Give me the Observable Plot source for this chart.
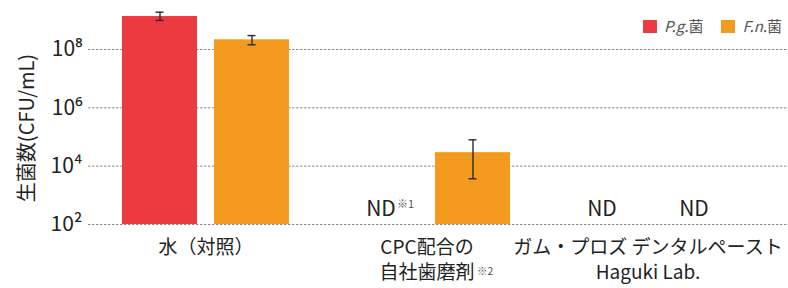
<!DOCTYPE html>
<html><head><meta charset="utf-8">
<script src="https://cdn.jsdelivr.net/npm/d3@7"></script>
<script src="https://cdn.jsdelivr.net/npm/@observablehq/plot@0.6"></script>
<style>
body{margin:0;background:#fff;}
#wrap{position:relative;width:788px;height:288px;overflow:hidden;font-family:"Noto Sans CJK JP","Noto Sans",sans-serif;}
#legend{position:absolute;top:18px;left:643px;display:flex;align-items:center;font-size:15px;color:#555;white-space:nowrap;line-height:16px;}
#legend .item{display:flex;align-items:center;margin-right:18px;}
#legend .sw{display:inline-block;width:14px;height:13px;margin-right:7px;}
</style></head><body><div id="wrap"><div id="legend"></div></div>
<script>
// ---- data ----
const groups = ["水（対照）", "CPC配合の\n自社歯磨剤", "ガム・プロズ デンタルペースト\nHaguki Lab."];
const groupNotes = [null, "※2", null];
const series = ["P.g.", "F.n."];
const seriesSuffix = "菌";
const seriesColors = ["#ec3a41", "#f39a1f"];
const pgValues = [1.35e9, null, null];
const pgLow = [9.9e8, null, null];
const pgHigh = [1.9e9, null, null];
const pgNotes = [null, "※1", null];
const fnValues = [2.15e8, 2.9e4, null];
const fnLow = [1.45e8, 3.7e3, null];
const fnHigh = [3.0e8, 8.0e4, null];
const fnNotes = [null, null, null];
const ndText = "ND";
const yBase = 1e2;
const yTicks = [1e2, 1e4, 1e6, 1e8];
const yTickLabels = ["10²", "10⁴", "10⁶", "10⁸"];
const yLabel = "生菌数(CFU/mL)";

// ---- layout ----
const W = 788, H = 288;
const barW = 75, barGap = 17;
const slot = barW + barGap;
const bandW = 2 * barW + barGap;
const capW = 8;

const rows = (vals, lows, highs, notes, s) => groups.map((g, i) => ({group: g, value: vals[i], low: lows[i], high: highs[i], note: notes[i], series: s}));
const pgRows = rows(pgValues, pgLow, pgHigh, pgNotes, 0);
const fnRows = rows(fnValues, fnLow, fnHigh, fnNotes, 1);
const noteRows = groups.map((g, i) => ({group: g, note: groupNotes[i]})).filter(d => d.note);

const errMarks = (data, side) => {
  const d = data.filter(r => r.low != null);
  const dx = side === 0 ? -slot / 2 : slot / 2;
  const capCenter = side === 0 ? barW / 2 : bandW - barW / 2;
  const il = capCenter - capW / 2, ir = bandW - capCenter - capW / 2;
  return [
    Plot.ruleX(d, {x: "group", y1: "low", y2: "high", dx, stroke: "#2a2a2a", strokeWidth: 1.4}),
    Plot.tickY(d, {x: "group", y: "low", insetLeft: il, insetRight: ir, stroke: "#2a2a2a", strokeWidth: 1.4}),
    Plot.tickY(d, {x: "group", y: "high", insetLeft: il, insetRight: ir, stroke: "#2a2a2a", strokeWidth: 1.4})
  ];
};
const ndMarks = (data, side) => {
  const dx = side === 0 ? -slot / 2 : slot / 2;
  return [
    Plot.text(data.filter(r => r.value == null), {x: "group", y: yBase, text: () => ndText, dx, dy: -9, lineAnchor: "bottom", fontSize: 21, fill: "#222"}),
    Plot.text(data.filter(r => r.value == null && r.note), {x: "group", y: yBase, text: "note", dx: dx + 16, dy: -20, textAnchor: "start", lineAnchor: "middle", fontSize: 11, fill: "#555"})
  ];
};

const start = 205 - bandW / 2, step = 221.5;
const chart = Plot.plot({
  width: W, height: H,
  marginLeft: 88, marginRight: 0, marginTop: 5, marginBottom: 64,
  style: {fontFamily: "'Noto Sans CJK JP','Noto Sans',sans-serif", background: "#fff"},
  x: {type: "band", domain: groups, range: [start, start + 2 * step + bandW], paddingInner: (step - bandW) / step, paddingOuter: 0, axis: null},
  y: {type: "log", domain: [1e2, 1e8], range: [224, 49], axis: null},
  marks: [
    Plot.ruleY(yTicks, {stroke: "#8c8c8c", strokeDasharray: "2.5,1.5", strokeWidth: 1}),
    Plot.barY(pgRows.filter(r => r.value != null), {x: "group", y1: yBase, y2: "value", fill: seriesColors[0], insetRight: slot}),
    Plot.barY(fnRows.filter(r => r.value != null), {x: "group", y1: yBase, y2: "value", fill: seriesColors[1], insetLeft: slot}),
    ...errMarks(pgRows, 0), ...errMarks(fnRows, 1),
    ...ndMarks(pgRows, 0), ...ndMarks(fnRows, 1),
    Plot.axisY(yTicks, {tickFormat: d => yTickLabels[yTicks.indexOf(d)], tickSize: 0, tickPadding: 6, fontSize: 21, label: null, color: "#222"}),
    Plot.text([yLabel], {frameAnchor: "left", textAnchor: "middle", lineAnchor: "middle", rotate: -90, dx: -61, dy: 13, fontSize: 20, fill: "#222"}),
    Plot.text(groups, {x: d => d, frameAnchor: "bottom", lineAnchor: "top", dy: 12, fontSize: 19, lineHeight: 1.32, fill: "#222"}),
    Plot.text(noteRows, {x: "group", frameAnchor: "bottom", text: "note", textAnchor: "start", lineAnchor: "middle", dx: 50, dy: 47, fontSize: 10.5, fill: "#555"})
  ]
});
document.getElementById("wrap").appendChild(chart);

const legend = document.getElementById("legend");
series.forEach((s, i) => {
  const it = document.createElement("span");
  it.className = "item";
  const sw = document.createElement("span");
  sw.className = "sw"; sw.style.background = seriesColors[i];
  const lab = document.createElement("span");
  const em = document.createElement("i"); em.textContent = s;
  lab.appendChild(em); lab.appendChild(document.createTextNode(seriesSuffix));
  it.appendChild(sw); it.appendChild(lab);
  legend.appendChild(it);
});
</script></body></html>
